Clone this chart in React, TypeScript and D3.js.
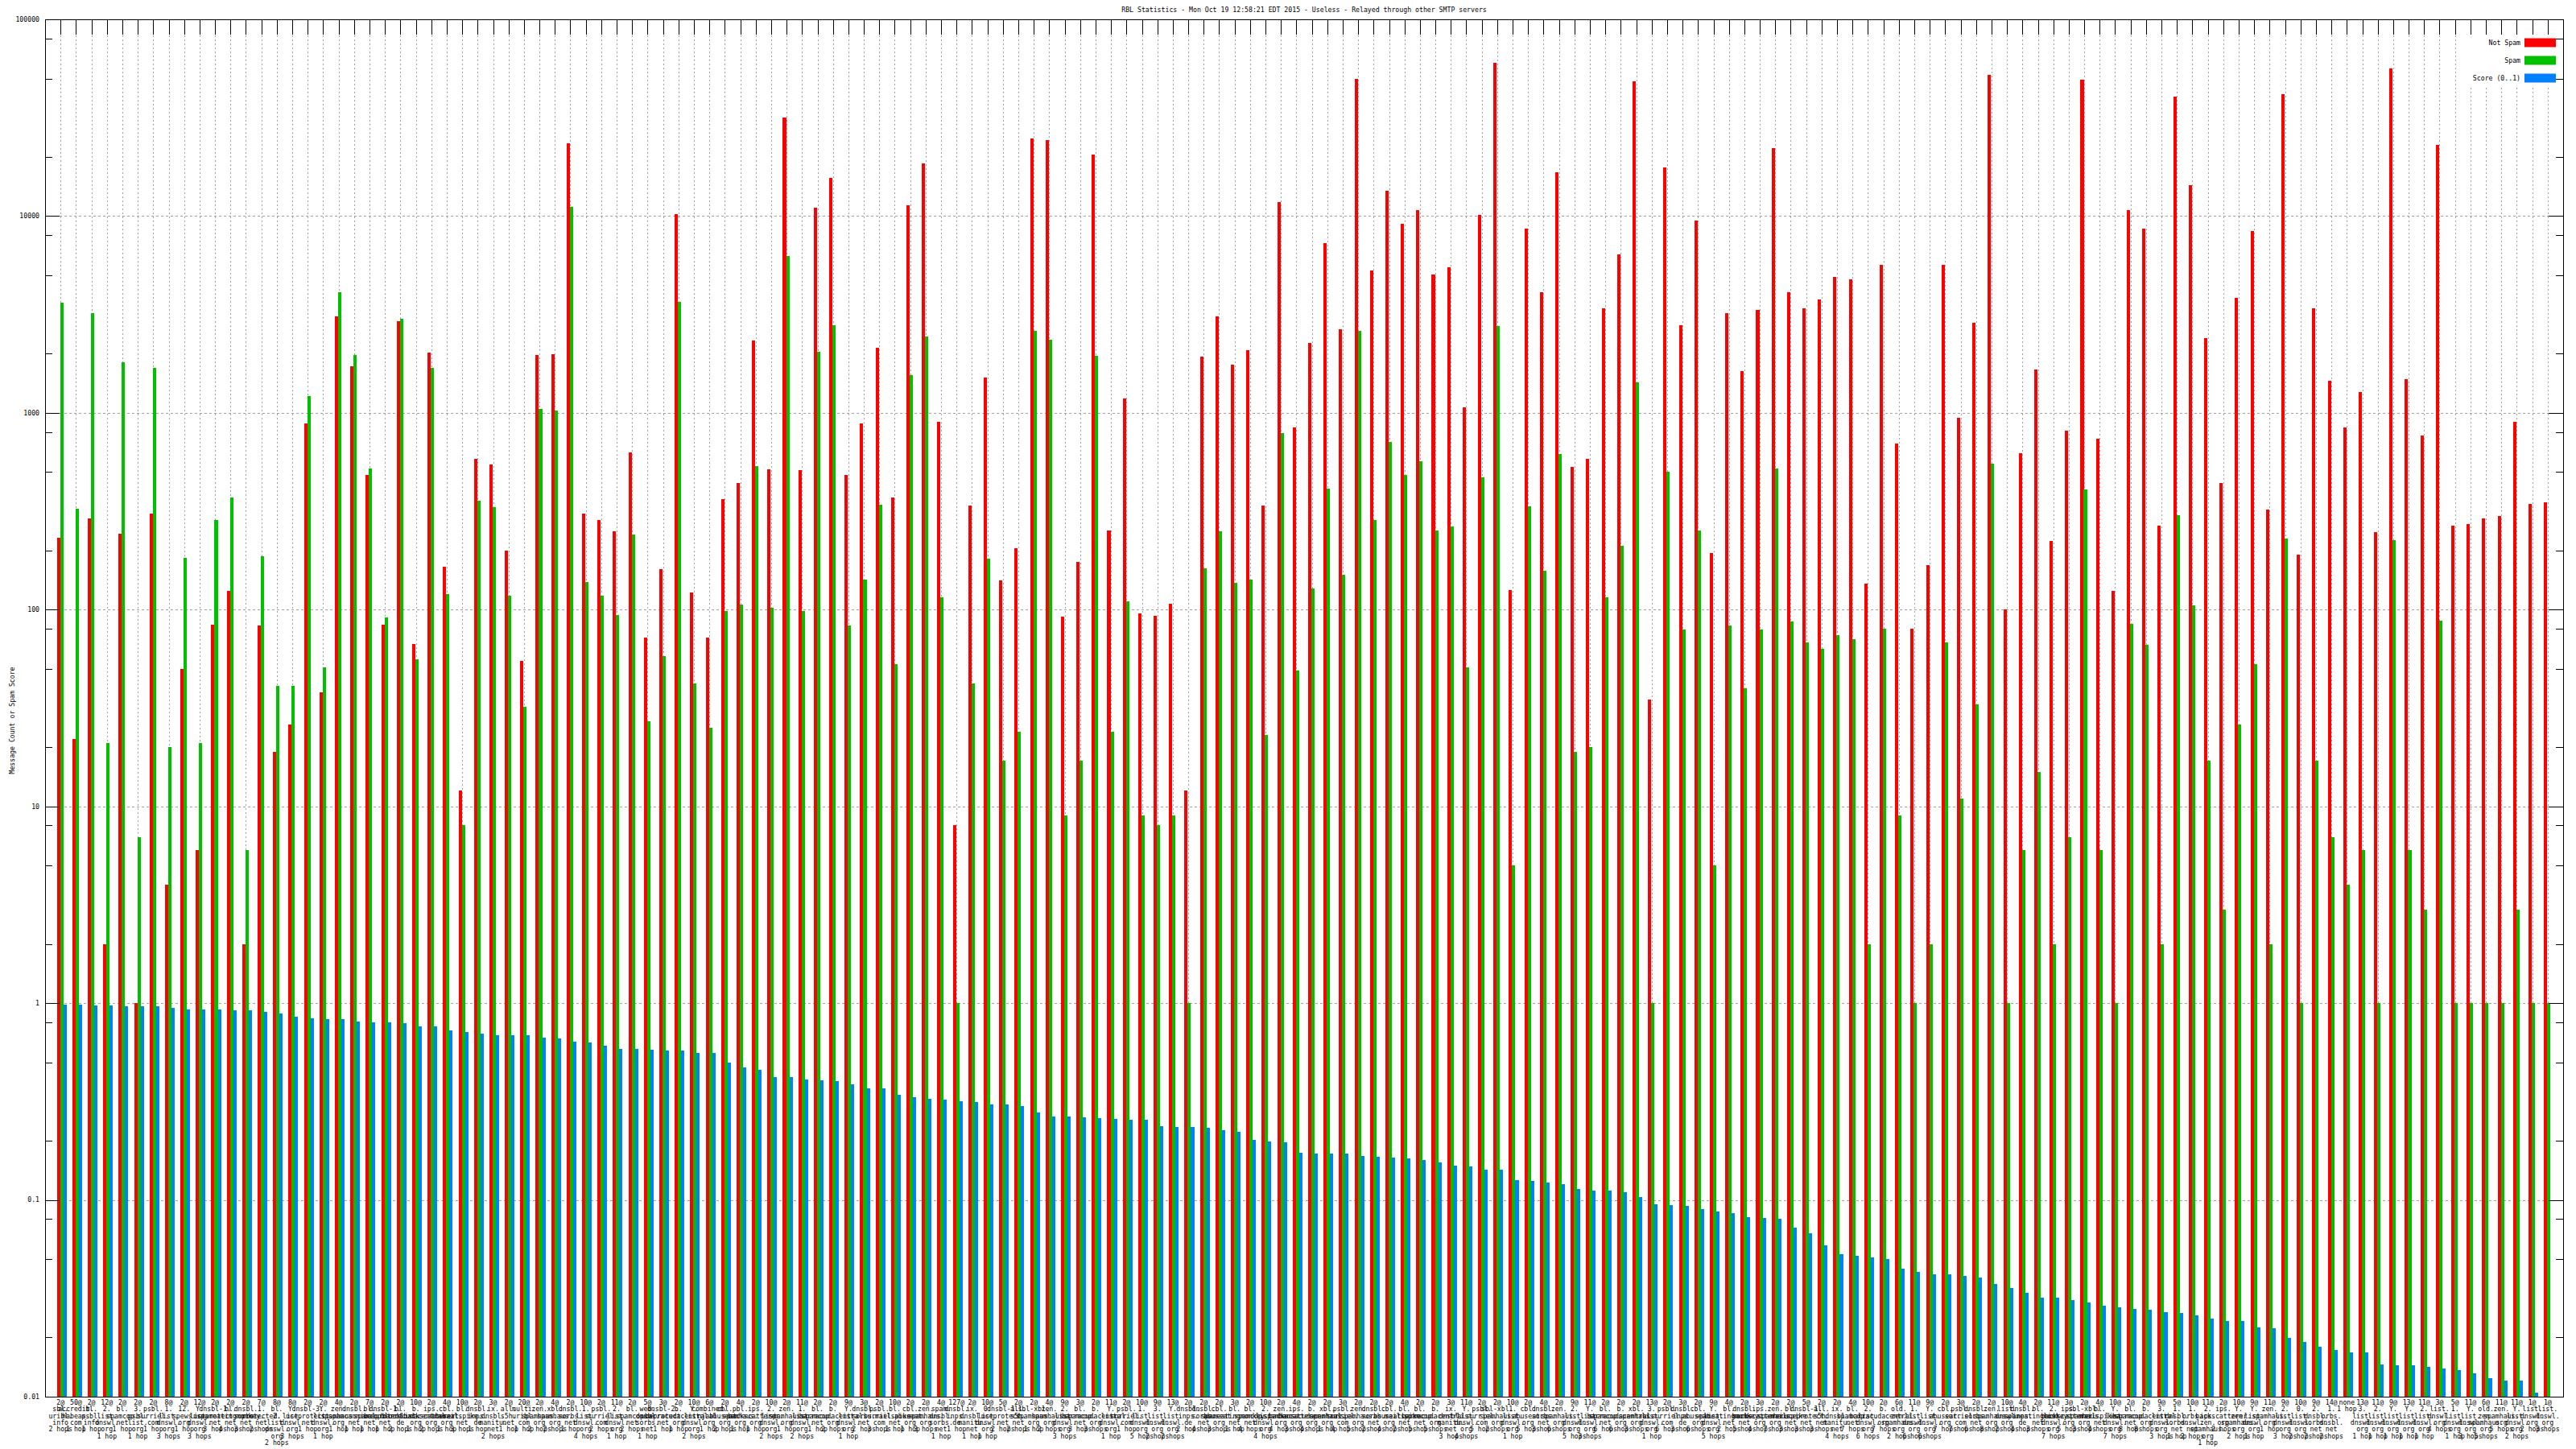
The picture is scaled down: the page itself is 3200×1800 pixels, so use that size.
import { useEffect, useRef } from 'react';
import * as d3 from 'd3';

// message counts per RBL result
const notSpam = [
  231, 22, 292, 2, 244, 1, 307, 4, 50, 6,
  84, 124, 2, 83, 19, 26, 887, 38, 3100, 1717,
  482, 84, 2920, 67, 2030, 165, 12, 581, 548, 199,
  55, 1970, 1980, 23550, 307, 286, 249, 629, 72, 160,
  10200, 122, 72, 366, 441, 2330, 516, 31600, 514, 11030,
  15570, 482, 887, 2150, 370, 11360, 18600, 897, 8, 338,
  1510, 141, 205, 24700, 24300, 92, 175, 20500, 252, 1180,
  96, 93, 107, 12, 1932, 3100, 1750, 2090, 338, 11820,
  845, 2260, 7300, 2670, 50000, 5270, 13430, 9160, 10700, 5070,
  5480, 1070, 10100, 60000, 126, 8630, 4120, 16700, 532, 581,
  3390, 6360, 48200, 35, 17700, 2780, 9530, 193, 3220, 1634,
  3320, 22200, 4120, 3390, 3770, 4920, 4780, 135, 5650, 701,
  80, 168, 5650, 944, 2860, 52300, 100, 624, 1660, 223,
  811, 49200, 741, 124, 10700, 8600, 268, 40600, 14380, 2390,
  439, 3840, 8430, 321, 41500, 190, 3400, 1456, 845, 1277,
  247, 56100, 1486, 764, 22900, 268, 273, 290, 299, 898,
  344, 351,
];

const spam = [
  3630, 325, 3220, 21, 1800, 7, 1700, 20, 184, 21,
  286, 373, 6, 187, 41, 41, 1216, 51, 4120, 1970,
  521, 91, 3010, 56, 1700, 120, 8, 359, 332, 118,
  32, 1050, 1030, 11140, 138, 118, 94, 240, 27, 58,
  3660, 42, 25, 98, 106, 537, 102, 6240, 98, 2050,
  2780, 83, 142, 342, 53, 1556, 2450, 115, 1, 42,
  182, 17, 24, 2620, 2350, 9, 17, 1950, 24, 110,
  9, 8, 9, 1, 162, 249, 137, 142, 23, 789,
  49, 128, 412, 151, 2620, 286, 714, 482, 565, 252,
  264, 51, 468, 2750, 5, 335, 157, 617, 19, 20,
  116, 211, 1424, 1, 501, 79, 252, 5, 83, 40,
  79, 521, 87, 68, 63, 74, 71, 2, 80, 9,
  1, 2, 68, 11, 33, 553, 1, 6, 15, 2,
  7, 409, 6, 1, 85, 66, 2, 302, 105, 17,
  3, 26, 53, 2, 230, 1, 17, 7, 4, 6,
  1, 225, 6, 3, 88, 1, 1, 1, 1, 3,
  1, 1,
];

const score = [
  0.98, 0.98, 0.97, 0.97, 0.96, 0.96, 0.96, 0.95, 0.93, 0.93,
  0.93, 0.92, 0.92, 0.9, 0.89, 0.85, 0.84, 0.83, 0.83, 0.81,
  0.8, 0.8, 0.79, 0.76, 0.76, 0.73, 0.71, 0.7, 0.69, 0.69,
  0.686, 0.67, 0.66, 0.635, 0.63, 0.61, 0.585, 0.585, 0.58, 0.575,
  0.575, 0.56, 0.56, 0.5, 0.47, 0.46, 0.42, 0.42, 0.41, 0.405,
  0.4, 0.386, 0.37, 0.37, 0.342, 0.332, 0.326, 0.322, 0.316, 0.313,
  0.307, 0.307, 0.3, 0.278, 0.265, 0.265, 0.262, 0.26, 0.257, 0.255,
  0.255, 0.238, 0.235, 0.235, 0.233, 0.226, 0.222, 0.201, 0.199, 0.197,
  0.173, 0.172, 0.172, 0.172, 0.167, 0.165, 0.164, 0.162, 0.16, 0.155,
  0.149, 0.148, 0.143, 0.143, 0.126, 0.125, 0.123, 0.12, 0.114, 0.112,
  0.111, 0.109, 0.103, 0.095, 0.094, 0.093, 0.09, 0.087, 0.086, 0.082,
  0.081, 0.08, 0.072, 0.068, 0.059, 0.053, 0.052, 0.051, 0.05, 0.0446,
  0.043, 0.042, 0.042, 0.041, 0.0405, 0.0373, 0.0358, 0.0338, 0.0318, 0.0318,
  0.031, 0.03, 0.0289, 0.0285, 0.028, 0.0277, 0.0268, 0.0266, 0.0258, 0.025,
  0.0243, 0.0243, 0.0225, 0.0223, 0.0198, 0.019, 0.018, 0.0173, 0.0168, 0.0168,
  0.0146, 0.0145, 0.0145, 0.0142, 0.0139, 0.0136, 0.0132, 0.0124, 0.0121, 0.0121,
  0.0105, 0.01,
];

// "code@host|hops"
const rblLabels = [
  '2@sbl.uribl.info|2', '50@accredit.habeas.com|1', '2@bl.psbl.info|1', '12@2.list.dnswl.org|1',
  '2@bl.spamcop.net|1', '2@3.psbl.list.org|1', '2@psbl.surriel.com|1', '8@1.list.dnswl.org|3',
  '2@12.spews.org|1', '12@Y.list.dnswl.org|3', '2@dnsbl-1.uceprotect.net|3', '2@bl.spameatingmonkey.net|4',
  '2@dnsbl.sorbs.net|3', '7@1.protected.net|2', '8@bl.2.list.dnswl.org|2', '8@Y.list.dnswl.org|3',
  '2@dnsbl-3.uceprotect.net|1', '2@Y.list.dnswl.org|1', '4@zen.spamhaus.org|1', '2@dnsbl.spamcannibal.net|1',
  '7@bl.spamcop.net|1', '2@dnsbl-1.uceprotect.net|1', '2@bl.blocklist.de|2', '10@b.barracudacentral.org|1',
  '2@ips.backscatterer.org|2', '4@cbl.abuseat.org|1', '10@bl.mailspike.net|3', '2@dnsbl.inps.de|1',
  '3@ix.dnsbl.manitu.net|2', '2@all.s5h.net|1', '20@multi.uribl.com|1', '2@zen.spamhaus.org|2',
  '4@xbl.spamhaus.org|2', '2@dnsbl.sorbs.net|1', '10@1.list.dnswl.org|4', '2@psbl.surriel.com|2',
  '11@2.list.dnswl.org|1', '2@bl.spamcop.net|2', '5@web.dnsbl.sorbs.net|1', '3@dnsbl-2.uceprotect.net|1',
  '2@b.barracudacentral.org|1', '10@Y.list.dnswl.org|2', '6@combined.njabl.org|1', '2@cbl.abuseat.org|2',
  '4@pbl.spamhaus.org|1', '2@ips.backscatterer.org|1', '10@2.list.dnswl.org|2', '2@zen.spamhaus.org|1',
  '11@1.list.dnswl.org|2', '2@bl.spamcop.net|1', '2@b.barracudacentral.org|2', '9@Y.list.dnswl.org|1',
  '3@dnsbl.sorbs.net|2', '2@psbl.surriel.com|3', '10@bl.mailspike.net|1', '2@cbl.abuseat.org|1',
  '2@zen.spamhaus.org|3', '4@spam.dnsbl.sorbs.net|1', '127@dnsbl.inps.de|1', '2@ix.dnsbl.manitu.net|1',
  '10@0.list.dnswl.org|1', '5@dnsbl-1.uceprotect.net|2', '2@all.s5h.net|2', '2@sbl-xbl.spamhaus.org|1',
  '4@zen.spamhaus.org|2', '9@2.list.dnswl.org|3', '3@bl.spamcop.net|3', '2@b.barracudacentral.org|3',
  '11@Y.list.dnswl.org|1', '2@psbl.surriel.com|1', '10@1.list.dnswl.org|5', '9@3.list.dnswl.org|2',
  '13@Y.list.dnswl.org|2', '2@dnsbl.inps.de|2', '2@dnsbl.sorbs.net|4', '2@cbl.abuseat.org|3',
  '3@bl.spameatingmonkey.net|1', '2@bl.spamcop.net|4', '10@2.list.dnswl.org|4', '2@zen.spamhaus.org|4',
  '4@ips.backscatterer.org|3', '2@b.barracudacentral.org|4', '2@xbl.spamhaus.org|1', '3@psbl.surriel.com|4',
  '2@zen.spamhaus.org|5', '2@dnsbl.sorbs.net|2', '2@cbl.abuseat.org|4', '4@bl.mailspike.net|2',
  '2@bl.spamcop.net|5', '2@b.barracudacentral.org|5', '3@ix.dnsbl.manitu.net|3', '11@Y.list.dnswl.org|4',
  '2@psbl.surriel.com|5', '2@sbl-xbl.spamhaus.org|2', '10@1.list.dnswl.org|1', '2@cbl.abuseat.org|5',
  '4@dnsbl.sorbs.net|3', '2@zen.spamhaus.org|6', '9@2.list.dnswl.org|5', '11@Y.list.dnswl.org|3',
  '2@bl.spamcop.net|6', '2@b.barracudacentral.org|6', '2@xbl.spamhaus.org|3', '13@3.list.dnswl.org|1',
  '2@psbl.surriel.com|6', '3@dnsbl.inps.de|3', '2@cbl.abuseat.org|6', '9@Y.list.dnswl.org|5',
  '4@bl.spameatingmonkey.net|2', '2@dnsbl.sorbs.net|5', '3@ips.backscatterer.org|4', '2@zen.spamhaus.org|7',
  '2@bl.mailspike.net|3', '5@dnsbl-1.uceprotect.net|3', '2@all.s5h.net|3', '2@ix.dnsbl.manitu.net|4',
  '4@bl.spamcop.net|7', '10@2.list.dnswl.org|6', '2@b.barracudacentral.org|7', '6@old.zen.spamhaus.org|2',
  '11@1.list.dnswl.org|6', '9@Y.list.dnswl.org|6', '2@cbl.abuseat.org|7', '3@psbl.surriel.com|7',
  '2@dnsbl.sorbs.net|6', '2@zen.spamhaus.org|8', '10@list.dnswl.org|2', '4@dnsbl.inps.de|4',
  '2@bl.spameatingmonkey.net|3', '11@2.list.dnswl.org|7', '3@ips.backscatterer.org|5', '2@sbl-xbl.spamhaus.org|3',
  '4@bl.mailspike.net|4', '10@Y.list.dnswl.org|7', '2@bl.spamcop.net|8', '2@b.barracudacentral.org|8',
  '9@3.list.dnswl.org|3', '5@1.dnsbl.sorbs.net|1', '10@1.orbs.dnswl.net|2', '11@2.ips.zen.spamhaus.org|1',
  '2@ips.backscatterer.org|2', '10@Y.zen.spamhaus.org|2', '9@Y.list.dnswl.org|1', '11@zen.spamhaus.org|1',
  '9@2.list.dnswl.org|3', '10@0.list.dnswl.org|2', '9@2.dnsbl.sorbs.net|2', '14@1.orbs.dnsbl.net|2',
  'none@|1', '13@3.list.dnswl.org|1', '11@2.list.dnswl.org|1', '9@Y.list.dnswl.org|1',
  '13@Y.list.dnswl.org|1', '11@2.list.dnswl.org|1', '3@list.dnswl.org|4', '5@1.list.dnswl.org|1',
  '11@Y.list.dnswl.org|3', '6@old.zen.spamhaus.org|5', '11@zen.spamhaus.org|5', '11@Y.list.dnswl.org|2',
  '1@list.dnswl.org|2', '1@list.dnswl.org|3',
];

const yTickValues = [100000, 10000, 1000, 100, 10, 1, 0.1, 0.01];
const yTickLabels = ['100000', '10000', '1000', '100', '10', '1', '0.1', '0.01'];
const minorSteps = [2, 5, 8];
const seriesNames = ['Not Spam', 'Spam', 'Score (0..1)'];
const seriesColors = ['#ff0000', '#00c000', '#0080ff'];
const chartTitle =
  'RBL Statistics - Mon Oct 19 12:58:21 EDT 2015 - Useless - Relayed through other SMTP servers';
const yAxisTitle = 'Message Count or Spam Score';

const WIDTH = 3200;
const HEIGHT = 1800;
const PLOT = { left: 56, right: 3184, top: 24, bottom: 1735 };
const FONT = '"DejaVu Sans Mono", "Liberation Mono", monospace';
const FONT_SIZE = 8.2;

function labelLines(raw: string): string[] {
  const [left, hopStr] = raw.split('|');
  const [code, host] = left.split('@');
  const hops = Number(hopStr);
  const lines = [code === 'none' ? 'none' : `${code}@`];
  if (host) {
    const parts = host.split('.');
    parts.forEach((p, i) => lines.push(i < parts.length - 1 ? `${p}.` : p));
  }
  lines.push(hops === 1 ? '1 hop' : `${hops} hops`);
  return lines;
}

const App = () => {
  const svgRef = useRef<SVGSVGElement>(null);

  useEffect(() => {
    document.body.style.margin = '0';
    if (!svgRef.current) return;
    const svg = d3.select(svgRef.current);
    svg.selectAll('*').remove();

    const n = notSpam.length;
    const x = d3.scaleLinear().domain([-1, n]).range([PLOT.left, PLOT.right]);
    const y = d3.scaleLog().domain([0.01, 100000]).range([PLOT.bottom, PLOT.top]);
    const step = x(1) - x(0);
    const barW = step * 0.21;
    const sub = d3
      .scaleBand<number>()
      .domain([0, 1, 2])
      .range([-1.15 * barW, 1.85 * barW])
      .paddingInner(0);

    svg.append('rect').attr('width', WIDTH).attr('height', HEIGHT).attr('fill', '#fff');

    // grid
    const grid = svg.append('g').attr('stroke', '#a0a0a0').attr('stroke-width', 1);
    yTickValues
      .filter((v) => v < 100000 && v > 0.01)
      .forEach((v) => {
        const yy = Math.round(y(v)) + 0.5;
        grid
          .append('line')
          .attr('x1', PLOT.left)
          .attr('x2', PLOT.right)
          .attr('y1', yy)
          .attr('y2', yy)
          .attr('stroke-dasharray', '3,3');
      });
    d3.range(n).forEach((i) => {
      const xx = Math.round(x(i)) + 0.5;
      grid
        .append('line')
        .attr('x1', xx)
        .attr('x2', xx)
        .attr('y1', PLOT.top)
        .attr('y2', PLOT.bottom)
        .attr('stroke-dasharray', '2,3');
    });

    // bottom x ticks (mostly hidden under bars)
    const ticks = svg.append('g').attr('stroke', '#000').attr('stroke-width', 1);
    d3.range(n).forEach((i) => {
      const xx = Math.round(x(i)) + 0.5;
      ticks
        .append('line')
        .attr('x1', xx)
        .attr('x2', xx)
        .attr('y1', PLOT.bottom)
        .attr('y2', PLOT.bottom - 19);
    });

    // bars
    const series = [notSpam, spam, score];
    const bars = svg.append('g').attr('shape-rendering', 'crispEdges');
    series.forEach((vals, k) => {
      bars
        .selectAll(`rect.s${k}`)
        .data(vals)
        .enter()
        .append('rect')
        .attr('class', `s${k}`)
        .attr('x', (_, i) => x(i) + (sub(k) ?? 0))
        .attr('width', sub.bandwidth())
        .attr('y', (d) => y(Math.max(d, 0.01)))
        .attr('height', (d) => PLOT.bottom - y(Math.max(d, 0.01)))
        .attr('fill', seriesColors[k]);
    });

    // legend background hides the grid behind the key
    svg
      .append('rect')
      .attr('x', 3066)
      .attr('y', PLOT.top + 20)
      .attr('width', PLOT.right - 3066)
      .attr('height', 63)
      .attr('fill', '#fff');

    // top x ticks
    d3.range(n).forEach((i) => {
      const xx = Math.round(x(i)) + 0.5;
      ticks
        .append('line')
        .attr('x1', xx)
        .attr('x2', xx)
        .attr('y1', PLOT.top)
        .attr('y2', PLOT.top + 19);
    });

    // y ticks left and right
    const minorVals: number[] = [];
    yTickValues.slice(1).forEach((v) => minorSteps.forEach((m) => minorVals.push(v * m)));
    const axisG = svg.append('g').attr('stroke', '#000').attr('stroke-width', 1);
    yTickValues.forEach((v) => {
      const yy = Math.round(y(v)) + 0.5;
      axisG.append('line').attr('x1', PLOT.left).attr('x2', PLOT.left + 18).attr('y1', yy).attr('y2', yy);
      axisG.append('line').attr('x1', PLOT.right).attr('x2', PLOT.right - 18).attr('y1', yy).attr('y2', yy);
    });
    minorVals.forEach((v) => {
      const yy = Math.round(y(v)) + 0.5;
      axisG.append('line').attr('x1', PLOT.left).attr('x2', PLOT.left + 9).attr('y1', yy).attr('y2', yy);
      axisG.append('line').attr('x1', PLOT.right).attr('x2', PLOT.right - 9).attr('y1', yy).attr('y2', yy);
    });

    // border
    svg
      .append('rect')
      .attr('x', PLOT.left + 0.5)
      .attr('y', PLOT.top + 0.5)
      .attr('width', PLOT.right - PLOT.left)
      .attr('height', PLOT.bottom - PLOT.top)
      .attr('fill', 'none')
      .attr('stroke', '#000')
      .attr('stroke-width', 1);

    // legend keys
    seriesNames.forEach((_, k) => {
      svg
        .append('rect')
        .attr('x', 3136)
        .attr('y', 53 + k * 22 - 5.5)
        .attr('width', 39)
        .attr('height', 11)
        .attr('fill', seriesColors[k]);
    });

    const text = svg
      .append('g')
      .attr('font-family', FONT)
      .attr('font-size', FONT_SIZE)
      .attr('fill', '#000');

    // legend labels
    seriesNames.forEach((name, k) => {
      text
        .append('text')
        .attr('x', 3131)
        .attr('y', 53 + k * 22)
        .attr('dy', '0.35em')
        .attr('text-anchor', 'end')
        .text(name);
    });

    // y tick labels
    yTickValues.forEach((v, i) => {
      text
        .append('text')
        .attr('x', PLOT.left - 7)
        .attr('y', y(v))
        .attr('dy', '0.35em')
        .attr('text-anchor', 'end')
        .text(yTickLabels[i]);
    });

    // title and axis title
    text
      .append('text')
      .attr('x', (PLOT.left + PLOT.right) / 2)
      .attr('y', 12)
      .attr('dy', '0.35em')
      .attr('text-anchor', 'middle')
      .text(chartTitle);
    text
      .append('text')
      .attr('transform', `translate(15, 895) rotate(-90)`)
      .attr('dy', '0.35em')
      .attr('text-anchor', 'middle')
      .text(yAxisTitle);

    // x labels, one multi-line label per RBL
    rblLabels.forEach((raw, i) => {
      const t = text
        .append('text')
        .attr('x', x(i))
        .attr('y', PLOT.bottom + 10)
        .attr('text-anchor', 'middle');
      labelLines(raw).forEach((line, j) => {
        t.append('tspan')
          .attr('x', x(i))
          .attr('y', PLOT.bottom + 10 + j * 8.3)
          .text(line);
      });
    });
  }, []);

  return (
    <div style={{ position: 'absolute', left: 0, top: 0 }}>
      <svg ref={svgRef} width={WIDTH} height={HEIGHT} style={{ display: 'block' }} />
    </div>
  );
};

export default App;
